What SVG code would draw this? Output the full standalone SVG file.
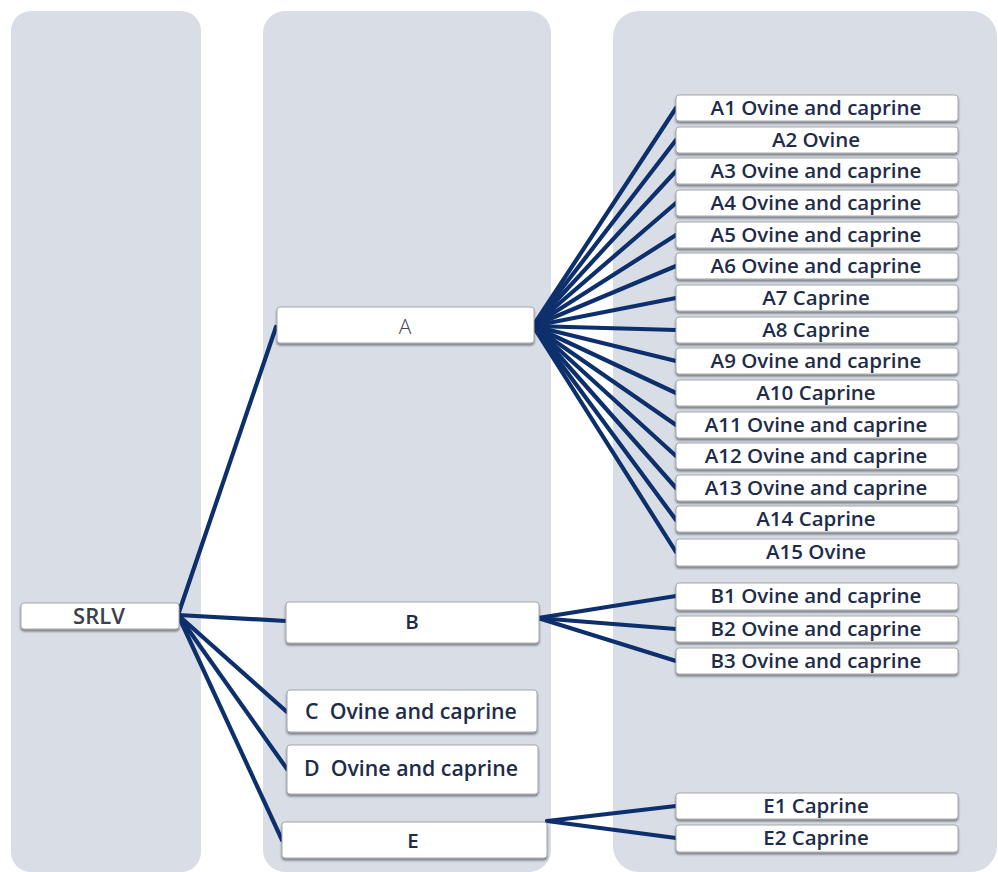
<svg xmlns="http://www.w3.org/2000/svg" width="998" height="872" viewBox="0 0 998 872">
<defs>
<filter id="sh" x="-5%" y="-30%" width="110%" height="170%">
<feDropShadow dx="0" dy="2" stdDeviation="1.2" flood-color="#000" flood-opacity="0.45"/>
</filter>
<style>
.panel{fill:#d8dde6}
.box{fill:#fff;stroke:#a3a6ab;stroke-width:1;filter:url(#sh)}
.t{font-family:"Open Sans","Liberation Sans",sans-serif;font-size:20.5px;font-weight:600;fill:#1e2c4a;text-anchor:middle}
.tl{font-family:"Open Sans","Liberation Sans",sans-serif;font-size:21.3px;font-weight:600;fill:#1e2c4a;text-anchor:middle}
.ta{font-family:"Open Sans","Liberation Sans",sans-serif;font-size:21px;font-weight:300;fill:#44474f;text-anchor:middle}
.ts{font-family:"Open Sans","Liberation Sans",sans-serif;font-size:22px;font-weight:600;fill:#3c4049;text-anchor:middle}
.c{stroke:#0d2f6c;stroke-width:4.2;fill:none;stroke-linecap:round}
</style>
</defs>
<rect width="998" height="872" fill="#fff"/>
<g id="panels">
<rect class="panel" x="11" y="11" width="190" height="861" rx="20"/>
<rect class="panel" x="263" y="11" width="288" height="861" rx="22"/>
<rect class="panel" x="613" y="11" width="384" height="861" rx="26"/>
</g>
<g id="connectors">
<line class="c" x1="178" y1="615" x2="276" y2="327"/>
<line class="c" x1="178" y1="615" x2="286" y2="621"/>
<line class="c" x1="178" y1="615" x2="287" y2="712"/>
<line class="c" x1="178" y1="615" x2="287" y2="769"/>
<line class="c" x1="178" y1="615" x2="282" y2="840"/>
<line class="c" x1="533" y1="326" x2="676" y2="108"/>
<line class="c" x1="533" y1="326" x2="676" y2="140"/>
<line class="c" x1="533" y1="326" x2="676" y2="171"/>
<line class="c" x1="533" y1="326" x2="676" y2="203"/>
<line class="c" x1="533" y1="326" x2="676" y2="235"/>
<line class="c" x1="533" y1="326" x2="676" y2="266"/>
<line class="c" x1="533" y1="326" x2="676" y2="298"/>
<line class="c" x1="533" y1="326" x2="676" y2="330"/>
<line class="c" x1="533" y1="326" x2="676" y2="361"/>
<line class="c" x1="533" y1="326" x2="676" y2="393"/>
<line class="c" x1="533" y1="326" x2="676" y2="425"/>
<line class="c" x1="533" y1="326" x2="676" y2="456"/>
<line class="c" x1="533" y1="326" x2="676" y2="488"/>
<line class="c" x1="533" y1="326" x2="676" y2="520"/>
<line class="c" x1="533" y1="326" x2="676" y2="552"/>
<line class="c" x1="538" y1="618" x2="676" y2="596"/>
<line class="c" x1="538" y1="618" x2="676" y2="629"/>
<line class="c" x1="538" y1="618" x2="676" y2="661"/>
<line class="c" x1="547" y1="821" x2="676" y2="806"/>
<line class="c" x1="547" y1="821" x2="676" y2="838"/>
</g>
<g id="SRLV"><rect class="box" x="21" y="603" width="158" height="26" rx="3"/><text class="ts" x="99" y="623.5">SRLV</text></g>
<g id="A"><rect class="box" x="277" y="307" width="257" height="36" rx="3"/><text class="ta" x="405" y="333.5">A</text></g>
<g id="B"><rect class="box" x="286" y="602" width="253" height="41" rx="3"/><text class="t" x="412" y="629">B</text></g>
<g id="C"><rect class="box" x="287" y="690" width="250" height="42" rx="3"/><text class="tl" x="411" y="718.5" xml:space="preserve">C  Ovine and caprine</text></g>
<g id="D"><rect class="box" x="287" y="745" width="251" height="49" rx="3"/><text class="tl" x="411" y="776" xml:space="preserve">D  Ovine and caprine</text></g>
<g id="E"><rect class="box" x="282" y="822" width="265" height="36" rx="3"/><text class="t" x="413" y="848">E</text></g>
<g id="A1"><rect class="box" x="676" y="95" width="282" height="26" rx="3"/><text class="t" x="816" y="114.5">A1 Ovine and caprine</text></g>
<g id="A2"><rect class="box" x="676" y="127" width="282" height="26" rx="3"/><text class="t" x="816" y="146.5">A2 Ovine</text></g>
<g id="A3"><rect class="box" x="676" y="158" width="282" height="26" rx="3"/><text class="t" x="816" y="177.5">A3 Ovine and caprine</text></g>
<g id="A4"><rect class="box" x="676" y="190" width="282" height="26" rx="3"/><text class="t" x="816" y="209.5">A4 Ovine and caprine</text></g>
<g id="A5"><rect class="box" x="676" y="222" width="282" height="26" rx="3"/><text class="t" x="816" y="241.5">A5 Ovine and caprine</text></g>
<g id="A6"><rect class="box" x="676" y="253" width="282" height="26" rx="3"/><text class="t" x="816" y="272.5">A6 Ovine and caprine</text></g>
<g id="A7"><rect class="box" x="676" y="285" width="282" height="26" rx="3"/><text class="t" x="816" y="304.5">A7 Caprine</text></g>
<g id="A8"><rect class="box" x="676" y="317" width="282" height="26" rx="3"/><text class="t" x="816" y="336.5">A8 Caprine</text></g>
<g id="A9"><rect class="box" x="676" y="348" width="282" height="26" rx="3"/><text class="t" x="816" y="367.5">A9 Ovine and caprine</text></g>
<g id="A10"><rect class="box" x="676" y="380" width="282" height="26" rx="3"/><text class="t" x="816" y="399.5">A10 Caprine</text></g>
<g id="A11"><rect class="box" x="676" y="412" width="282" height="26" rx="3"/><text class="t" x="816" y="431.5">A11 Ovine and caprine</text></g>
<g id="A12"><rect class="box" x="676" y="443" width="282" height="26" rx="3"/><text class="t" x="816" y="462.5">A12 Ovine and caprine</text></g>
<g id="A13"><rect class="box" x="676" y="475" width="282" height="26" rx="3"/><text class="t" x="816" y="494.5">A13 Ovine and caprine</text></g>
<g id="A14"><rect class="box" x="676" y="506" width="282" height="26" rx="3"/><text class="t" x="816" y="525.5">A14 Caprine</text></g>
<g id="A15"><rect class="box" x="676" y="539" width="282" height="27" rx="3"/><text class="t" x="816" y="558.5">A15 Ovine</text></g>
<g id="B1"><rect class="box" x="676" y="583" width="282" height="27" rx="3"/><text class="t" x="816" y="603">B1 Ovine and caprine</text></g>
<g id="B2"><rect class="box" x="676" y="616" width="282" height="26" rx="3"/><text class="t" x="816" y="635.5">B2 Ovine and caprine</text></g>
<g id="B3"><rect class="box" x="676" y="648" width="282" height="26" rx="3"/><text class="t" x="816" y="667.5">B3 Ovine and caprine</text></g>
<g id="E1"><rect class="box" x="676" y="793" width="282" height="26" rx="3"/><text class="t" x="816" y="813">E1 Caprine</text></g>
<g id="E2"><rect class="box" x="676" y="825" width="282" height="27" rx="3"/><text class="t" x="816" y="845">E2 Caprine</text></g>
</svg>
